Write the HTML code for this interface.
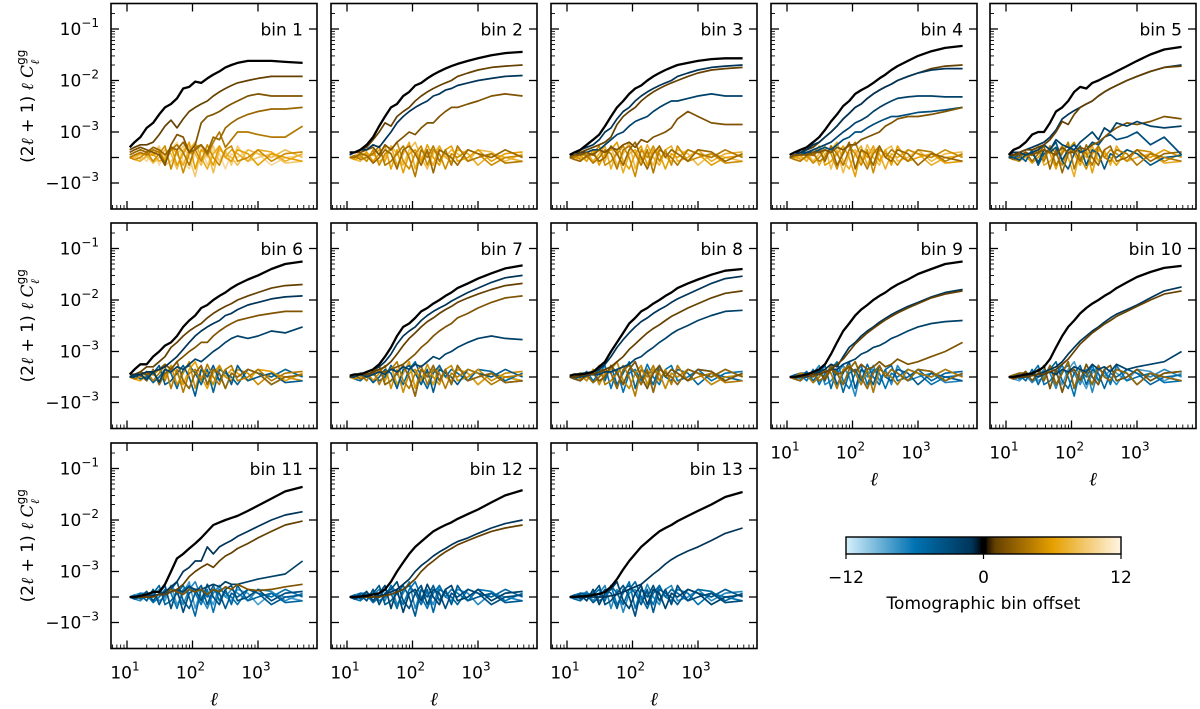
<!DOCTYPE html>
<html><head><meta charset="utf-8"><style>
html,body{margin:0;padding:0;background:#fff}
svg{display:block;font-family:"DejaVu Sans","Liberation Sans",sans-serif}
</style></head><body>
<svg id="fig" width="1200" height="709" viewBox="0 0 1200 709" xmlns="http://www.w3.org/2000/svg"></svg>
<script>
// ---- data ----
const ells = [11,13,16,20,25,31,38,47,58,72,89,110,136,168,208,257,318,393,486,700,1000,1600,2600,4800];
// values in units of 1e-3
const autoBin1 = [0.4,0.6,0.8,1.2,1.5,2.2,3,3.5,4.5,7,7.5,9.5,9,11,13,15,18,20,22,24,24,24,23,22];
const autoBin2 = [0.2,0.2,0.3,0.5,0.8,1.3,2,3,3.5,5,6,8,9,11,13,15,17,19,21,24,27,31,34,36];
const autoBin3 = [0.1,0.2,0.3,0.5,0.7,0.9,1.3,2,3,4,5.5,7,8,10,12,14,16,18,20,22,24,26,27,27];
const autoBin4 = [0.1,0.2,0.3,0.4,0.6,0.8,1.1,1.6,2.2,3.2,4,5.5,6.5,7.5,9,11,13,16,19,24,30,37,43,47];
const autoBin5 = [0.1,0.3,0.4,0.6,0.9,1,1,1.5,2.5,3,4,6,7.5,7,9,10,11.5,13,15,19,24,32,40,45];
const autoBin6 = [0.1,0.3,0.5,0.5,0.8,1,1.3,1.5,2,3,4,5,7,8,10,12,14,17,20,25,30,40,50,56];
const autoBin7 = [0.05,0.1,0.1,0.2,0.3,0.5,0.8,1.2,2,3,3.5,4.5,6,7,8.5,10,12,14,17,21,26,33,41,47];
const autoBin8 = [0.05,0.1,0.1,0.15,0.2,0.4,0.6,1,1.5,2.3,3.5,4.5,6,7,8.5,10,12,14,17,21,25,31,37,40];
const autoBin9 = [0,0,0.05,0.1,0.2,0.3,0.5,0.9,1.5,2.5,3.5,5,6.5,8,10,12,14,17,20,25,32,40,50,56];
const autoBin10 = [0,0,0.05,0.1,0.15,0.25,0.4,0.7,1.2,2,3,4,5.5,7,8.5,10,12,14,17,22,28,35,42,46];
const autoBin11 = [0,0,0.05,0.1,0.2,0.2,0.5,1,1.8,2.2,2.8,3.5,4.5,6,8,9,10,11,12,15,19,26,36,44];
const autoBin12 = [0,0,0.02,0.05,0.1,0.15,0.3,0.6,1,1.5,2.2,3,3.8,4.8,6,7,8,9,10.5,13,16,22,30,38];
const autoBin13 = [0,0,0.02,0.04,0.08,0.12,0.2,0.4,0.7,1.1,1.6,2.2,3,3.8,4.8,6,7,8,9.5,12,15,20,28,35];

const crossBin1 = [[1,[0.3,0.4,0.5,0.5,0.6,0.9,1.3,1.7,1.2,1.8,2.5,3,3.5,4,5,6,7,8,9,10,11,12,12,12]],
 [2,[0.2,0.3,0.4,0.3,0.2,0.1,-0.3,0.5,0.9,0.8,0.2,0.5,1.5,2,2.2,2.5,3,3.5,4,5,5.5,5,5,5]],
 [3,[0.1,0.2,0.3,0.2,0.4,0.3,0.1,0.4,0.3,0.6,0.2,0.3,0.5,0.2,0.8,0.7,1.2,1.5,1.8,2.2,2.5,2.8,2.8,3]],
 [4,[0,0.1,0.2,0.1,0.3,0.2,-0.2,0.3,0.5,0.2,-0.3,0.4,0.5,0.1,0.6,1,0.4,0.7,1,1,0.9,0.8,0.8,1.3]]];
const crossBin2 = [[1,[0.2,0.2,0.3,0.4,0.7,1,1.5,1.3,2,2.5,3,4,5,6,7,8,9,10,12,14,16,18,19,20]],
 [-1,[0.1,0.2,0.3,0.3,0.5,0.4,0.7,1,1.5,2,2.5,3,3.5,4,5,5.5,6.5,7,8,9,10,11,12,12.5]],
 [2,[0.1,0.2,0.2,0.3,0.4,0.1,0.5,0.3,0.6,0.8,1,0.9,1.2,1.5,1.5,2,2.5,3,3,3.5,4,5,5.5,5]]];
const crossBin3 = [[-1,[0.1,0.2,0.3,0.4,0.5,0.7,1,1.2,1.8,2.5,3,4,5,6,7,8,9,10,12,14,16,18,19,20]],
 [1,[0.1,0.2,0.2,0.3,0.4,0.5,0.6,0.8,1.4,2,2.5,3,4,5,6,7,8,9,10,12,14,16,17,18]],
 [-2,[0.1,0.1,0.2,0.2,0.3,0.3,0.5,0.7,0.9,1,1.3,1.6,1.8,2,2.5,3,3.5,4,4,4.5,5,5.5,5,5]],
 [2,[0,0.1,0.1,0.2,0.1,0.3,0.2,0.4,0.3,0.5,0.6,0.4,0.7,0.6,0.8,0.9,1,1.2,1.8,2.5,2,1.5,1.4,1.4]]];
const crossBin4 = [[1,[0.1,0.2,0.3,0.3,0.4,0.6,0.8,1,1.3,1.8,2.3,3,3.5,4.5,5.5,6.5,7.5,8.5,10,12,14,17,19,20]],
 [-1,[0.1,0.2,0.2,0.3,0.5,0.6,0.8,1,1.3,1.8,2.3,3,3.5,4.5,5.5,6.5,7.5,8.5,10,12,14,16,17,17]],
 [-2,[0,0.1,0.2,0.2,0.3,0.4,0.5,0.6,0.8,1,1.2,1.5,1.7,2,2.5,3,3.5,4,4.5,4.8,5,5,4.8,4.8]],
 [-3,[0,0.1,0.1,0.2,0.2,0.3,0.4,0.3,0.5,0.7,0.8,1,1,1.2,1.4,1.6,1.8,2,2,2.2,2.4,2.5,2.7,3]],
 [2,[0,0.1,0.1,0.1,0.2,0.2,0.3,0.2,0.4,0.3,0.5,0.5,0.7,0.8,0.9,1,1.3,1.5,1.8,2,2,2.2,2.5,3]]];
const crossBin5 = [[-1,[0.1,0.2,0.2,0.3,0.4,0.5,0.6,0.8,1.1,1.8,2.2,2.6,3,3.5,4,5,6,7,8,10,12,15,18,20]],
 [1,[0.1,0.1,0.2,0.3,0.3,0.4,0.5,0.7,1,1.6,1.4,2.2,3,3.5,4,5,6,7,8,10,12,15,18,19]],
 [2,[0,0.1,0.1,0.2,0.1,0.2,0.3,0.2,0.1,0.4,0.2,0.2,0.4,0.3,0.5,0.6,0.8,1,1.2,1.5,1.4,1.6,2,1.8]],
 [-2,[0,0.1,0.2,0.1,0.2,0.3,0.5,0.3,0.7,0.5,0.4,0.3,0.6,0.8,1,0.7,1.2,1,1.5,1.3,1.6,1.3,1.2,1.3]],
 [-3,[0,0,-0.1,0.1,0.2,-0.2,0.3,0.2,0.4,-0.1,0.3,0.5,0.2,0.3,0.6,0.5,0.8,0.9,0.7,0.8,1,0.5,0.8,0.1]]];
const crossBin6 = [[1,[0.1,0.1,0.2,0.4,0.4,0.6,0.8,1.2,1.5,2,2.5,3,3.5,4.5,5.5,6.5,7.5,8.5,10,12,14,17,19,20]],
 [-1,[0,0.1,0.1,0.2,0.2,0.3,0.4,0.6,0.8,1.1,1.5,2,2.5,3,3.5,4,5,5.5,6.5,8,9,10.5,11.5,12]],
 [2,[0,0.1,0.2,0.1,0.2,0.3,0.5,0.3,0.6,0.8,1,1.2,1.5,1.5,2,2.5,3,3.5,4,4.5,5,5.5,6,6]],
 [-2,[0,0,0.1,-0.1,0.2,-0.2,0.3,0.2,0.4,0.3,0.5,0.7,0.6,0.8,1,1.2,1.5,1.8,2,1.8,2,2.5,2.3,3]]];
const crossBin7 = [[-1,[0,0.1,0.1,0.2,0.3,0.4,0.6,0.9,1.4,2,2.5,3,4,5,6,7,8,9.5,11,14,17,22,27,30]],
 [1,[0,0.1,0.1,0.1,0.2,0.3,0.4,0.6,0.9,1.3,1.8,2.3,3,3.8,4.5,5.5,6.5,7.5,9,11,13,16,19,21]],
 [2,[0,0,0.1,0.1,0.1,0.2,0.2,0.3,0.4,0.5,0.7,0.9,1.2,1.5,2,2.5,3,3.5,4.5,5.5,7,9,11,12]],
 [-2,[0,0,0.1,0,0.1,0.2,0.1,0.3,0.2,0.4,0.3,0.5,0.4,0.6,0.8,0.7,0.9,1,1.2,1.5,1.8,2,1.8,1.7]]];
const crossBin8 = [[-1,[0,0,0.1,0.1,0.2,0.3,0.5,0.8,1.2,1.7,2.3,3,3.8,4.5,5.5,6.5,7.5,9,10.5,13,16,21,26,29]],
 [1,[0,0,0.05,0.1,0.1,0.2,0.3,0.4,0.6,0.8,1.1,1.4,1.8,2.3,2.8,3.3,4,4.8,5.5,7,8.5,11,13.5,15]],
 [-2,[0,0,0,0.05,0.1,0.1,0.2,0.2,0.3,0.4,0.5,0.7,0.8,1,1.2,1.5,1.8,2.2,2.6,3.2,4,5,6,6.3]]];
const crossBin9 = [[-1,[0,0,0,0.1,0.1,0.2,0.3,0.5,0.4,0.8,1.2,1.5,2,2.5,3,3.7,4.4,5.2,6,7.5,9,11.5,14,16]],
 [1,[0,0,0,0.05,0.1,0.1,0.2,0.3,0.5,0.7,1,1.4,1.8,2.3,2.8,3.4,4.1,4.8,5.6,7,8.5,11,13,15]],
 [-2,[0,0,0,0,0.1,0.1,0.2,0.3,0.3,0.5,0.6,0.7,0.9,1,1.2,1.3,1.5,1.8,2,2.5,3,3.5,3.8,4]],
 [2,[0,0,0,0.1,0,0.2,-0.1,0.3,0.1,0.2,0.4,0.2,0.5,0.3,0.4,0.6,0.4,0.5,0.7,0.5,0.6,0.8,1,1.5]]];
const crossBin10 = [[-1,[0,0,0,0.05,0.1,0.1,0.2,0.3,0.4,0.6,0.9,1.2,1.6,2,2.5,3,3.7,4.5,5.3,6.5,8,11,15,18]],
 [1,[0,0,0,0,0.05,0.1,0.1,0.2,0.3,0.5,0.7,1,1.4,1.8,2.3,2.8,3.4,4,4.8,6,7.5,10,13,15]],
 [-2,[0,0,0,0,0.1,0,0.1,0.2,0.1,0.3,0.2,0.4,0.3,0.2,0.5,0.3,0.4,0.2,0.5,0.3,0.4,0.5,0.6,1]]];
const crossBin11 = [[-1,[0,0,0,0,0.05,0.1,0.2,0.4,0.6,1,1.2,1.6,1.6,3,2.2,3,3.5,4,4.8,6,7.5,10,12.5,14.5]],
 [1,[0,0,0,0,0,0.1,0.1,0.2,0.3,0.5,0.8,1,1.2,1.4,1.2,1.6,2,2.3,2.8,3.5,4.5,6,8,9.5]],
 [-2,[0,0,0,0,0.05,0.1,0.1,0.2,0.3,0.2,0.4,0.3,0.3,0.4,0.5,0.4,0.6,0.5,0.5,0.6,0.7,0.8,0.9,1.6]],
 [2,[0,0,0,0,0.05,0.1,0.2,0.3,0.2,0.1,0.3,0.2,0.3,0.1,0.3,0.2,0.4,0.3,0.5,0.3,0.25,0.3,0.4,0.5]]];
const crossBin12 = [[-1,[0,0,0,0,0,0.05,0.1,0.2,0.3,0.5,0.7,1,1.3,1.6,2,2.4,2.8,3.3,3.8,4.5,5.5,7,8.5,10]],
 [1,[0,0,0,0,0,0,0.05,0.1,0.2,0.3,0.5,0.7,1,1.3,1.6,2,2.4,2.8,3.3,4,4.8,6,7,8]]];
const crossBin13 = [[-1,[0,0,0,0,0,0,0,0.05,0.1,0.2,0.3,0.4,0.5,0.7,0.9,1.1,1.4,1.7,2,2.5,3,4,5.5,7]]];

const noiseA = [0,0.08,0.15,0.15,0.08,0.3,-0.15,0.45,-0.3,0.15,0.6,-0.45,0.3,0.15,-0.3,0.45,0,-0.15,0.3,0.15,-0.3,0.15,0,-0.15];
const noiseB = [0,-0.08,0,0.22,-0.15,0.15,0.45,-0.45,0.3,-0.6,0.15,0.3,-0.15,0.5,0,-0.3,0.3,0.45,-0.15,0,0.3,-0.15,0.15,0.22];
const noiseC = [0,0,0.08,-0.15,0.3,-0.3,0.15,0.3,0.6,-0.15,-0.45,0.15,0.45,-0.3,0.3,0.15,-0.45,0.15,0,0.3,0.15,-0.3,0,0.08];
const noiseD = [0,0.08,-0.08,0,0.15,0.45,-0.3,-0.15,0.15,0.45,0,-0.75,0.3,0,0.45,-0.15,0.3,-0.3,0.45,-0.15,0,0.15,-0.22,-0.15];
const noiseE = [0,0,0.15,0.08,-0.22,0,0.3,0.15,-0.45,0.3,0.45,0.15,-0.3,0.3,-0.6,0.3,0.15,0,-0.3,0.3,0.15,0,0.3,0];
const noiseF = [0,-0.08,-0.15,0.08,0.15,-0.15,0,0.45,0.15,-0.3,0.3,0.6,0,-0.45,0.15,0.45,0,0.3,0.15,-0.15,0.3,0.22,-0.15,0.15];

const autoList = [autoBin1,autoBin2,autoBin3,autoBin4,autoBin5,autoBin6,autoBin7,autoBin8,autoBin9,autoBin10,autoBin11,autoBin12,autoBin13];
const crossList = [crossBin1,crossBin2,crossBin3,crossBin4,crossBin5,crossBin6,crossBin7,crossBin8,crossBin9,crossBin10,crossBin11,crossBin12,crossBin13];
const noiseList = [noiseA,noiseB,noiseC,noiseD,noiseE,noiseF];
const yTickLabels = ["10","10","10","","−10"];
const yTickExps = ["−1","−2","−3","","−3"];
const yTickVals = [100,10,1,0,-1];
const xTickVals = [10,100,1000];
const cbTicks = [-12,0,12];

// ---- layout ----
const NS="http://www.w3.org/2000/svg";
const svg=document.getElementById('fig');
const PW=206, PH=205.5, colX=[111,331,551,771,990], rowY=[3.5,223,443];
const DEC=51.5, LIN=25.5, ZERO=154, XDEC=65.5;
function el(tag,attrs,parent){const e=document.createElementNS(NS,tag);for(const k in attrs)e.setAttribute(k,attrs[k]);(parent||svg).appendChild(e);return e;}
function xs(px,l){return px+16+XDEC*(Math.log10(l)-1);}
function ys(py,u){const a=Math.abs(u);let d=a<=1?LIN*a:LIN+DEC*Math.log10(a);return py+ZERO-(u<0?-d:d);}
function lerp(a,b,t){return a.map((v,i)=>Math.round(v+(b[i]-v)*t));}
function cmap(off){
  if(off===0)return 'rgb(0,0,0)';
  const t=Math.abs(off)/12;
  const s=off<0?[[0,40,70],[0,114,178],[214,240,252]]:[[75,45,0],[230,159,0],[255,245,228]];
  const c=t<0.5?lerp(s[0],s[1],t/0.5):lerp(s[1],s[2],(t-0.5)/0.5);
  return 'rgb('+c.join(',')+')';
}
function pathFor(px,py,vals){return vals.map((v,i)=>(i?'L':'M')+xs(px,ells[i]).toFixed(1)+' '+ys(py,v).toFixed(1)).join(' ');}

for(let b=1;b<=13;b++){
  const idx=b-1;
  let col,row;
  if(b<=5){row=0;col=b-1;}else if(b<=10){row=1;col=b-6;}else{row=2;col=b-11;}
  const px=colX[col], py=rowY[row];
  const g=el('g',{});
  
  
  const cid='clip'+b;
  const cp=el('clipPath',{id:cid},g);el('rect',{x:px,y:py,width:PW,height:PH},cp);
  const lines=el('g',{'clip-path':'url(#'+cid+')'},g);
  const cross=crossList[idx];
  const sigOffs=cross.map(c=>c[0]);
  const offs=[];
  for(let o=-(b-1);o<=13-b;o++){if(o!==0&&!sigOffs.includes(o))offs.push(o);}
  offs.sort((a,c)=>Math.abs(c)-Math.abs(a));
  offs.forEach(o=>{
    const n=noiseList[((o+13)*5+b)%6];
    const p=el('path',{d:pathFor(px,py,n),fill:'none',stroke:cmap(o),'stroke-width':1.6,'stroke-linejoin':'round'},lines);
    
    
  });
  cross.slice().sort((a,c)=>Math.abs(c[0])-Math.abs(a[0])).forEach(c=>{
    const p=el('path',{d:pathFor(px,py,c[1]),fill:'none',stroke:cmap(c[0]),'stroke-width':1.7,'stroke-linejoin':'round'},lines);
    
    
  });
  const ap=el('path',{d:pathFor(px,py,autoList[idx]),fill:'none',stroke:'#000','stroke-width':2.3,'stroke-linejoin':'round'},lines);
  
  
  const fr=el('rect',{x:px,y:py,width:PW,height:PH,fill:'none',stroke:'#000','stroke-width':1.6},g);
  
  
  yTickVals.forEach(v=>{const y=ys(py,v);el('line',{x1:px,x2:px+8,y1:y,y2:y,stroke:'#000','stroke-width':1.3},g);el('line',{x1:px+PW-8,x2:px+PW,y1:y,y2:y,stroke:'#000','stroke-width':1.3},g);});
  [[1,3],[-1,2],[1,2],[1,1]].forEach(([s,dec])=>{for(let m=2;m<=9;m++){const u=s*m*Math.pow(10,dec-1);const y=ys(py,u);if(y>py+1&&y<py+PH-1)el('line',{x1:px,x2:px+4,y1:y,y2:y,stroke:'#000','stroke-width':0.9},g);}});
  xTickVals.forEach(l=>{const x=xs(px,l);el('line',{x1:x,x2:x,y1:py+PH,y2:py+PH-8,stroke:'#000','stroke-width':1.3},g);el('line',{x1:x,x2:x,y1:py,y2:py+8,stroke:'#000','stroke-width':1.3},g);});
  for(let d=0;d<4;d++)for(let m=2;m<=9;m++){const l=m*Math.pow(10,d);const x=xs(px,l);if(x>px+1&&x<px+PW-1)el('line',{x1:x,x2:x,y1:py+PH,y2:py+PH-4,stroke:'#000','stroke-width':0.9},g);}
  const t=el('text',{x:px+PW-14,y:py+32,'font-size':17,'text-anchor':'end'},g);t.textContent='bin '+b;
  
  
  if(col===0){
    yTickVals.forEach((v,i)=>{if(!yTickLabels[i])return;const tt=el('text',{x:px-12,y:ys(py,v)+6,'font-size':17,'text-anchor':'end'},g);
      const a=el('tspan',{},tt);a.textContent=yTickLabels[i];const e=el('tspan',{dy:-8,'font-size':12},tt);e.textContent=yTickExps[i];
      
      });
    const yl=el('text',{x:0,y:0,'font-size':17,'text-anchor':'middle',transform:'translate(33,'+(py+PH/2)+') rotate(-90)'},g);
    yl.innerHTML='(2<tspan font-style="italic" font-family="DejaVu Serif,serif">ℓ</tspan> + 1) <tspan font-style="italic" font-family="DejaVu Serif,serif">ℓ C</tspan><tspan font-size="12" dy="-8">gg</tspan><tspan font-size="12" dx="-15" dy="14" font-style="italic" font-family="DejaVu Serif,serif">ℓ</tspan>';
    
    
  }
  if(row===2||(row===1&&col>=3)){
    xTickVals.forEach(l=>{const tt=el('text',{x:xs(px,l)-2,y:py+PH+30,'font-size':17,'text-anchor':'middle'},g);
      const a=el('tspan',{},tt);a.textContent='10';const e=el('tspan',{dy:-8,'font-size':12},tt);e.textContent=String(Math.round(Math.log10(l)));
      
      });
    const xl=el('text',{x:px+PW/2,y:py+PH+57,'font-size':19,'text-anchor':'middle','font-style':'italic','font-family':'DejaVu Serif,serif'},g);xl.textContent='ℓ';
    
    
  }
}
const cb=el('g',{});


const defs=el('defs',{},cb);
const gr=el('linearGradient',{id:'cbg',x1:0,x2:1,y1:0,y2:0},defs);
for(let o=-12;o<=12;o++){el('stop',{offset:((o+12)/24).toFixed(3),'stop-color':cmap(o)},gr);}
const CX0=846,CX1=1121,CY=537,CH=17;
el('rect',{x:CX0,y:CY,width:CX1-CX0,height:CH,fill:'url(#cbg)'},cb);
el('rect',{x:(CX0+CX1)/2-3,y:CY,width:6,height:CH,fill:'#000'},cb);
el('rect',{x:CX0,y:CY,width:CX1-CX0,height:CH,fill:'none',stroke:'#000','stroke-width':1.4},cb);
cbTicks.forEach(v=>{const x=CX0+(v+12)/24*(CX1-CX0);el('line',{x1:x,x2:x,y1:CY+CH,y2:CY+CH+5,stroke:'#000','stroke-width':1.2},cb);
  const t=el('text',{x:x,y:CY+CH+29,'font-size':17,'text-anchor':'middle'},cb);t.textContent=v<0?'−'+Math.abs(v):String(v);
  
  });
const cbt=el('text',{x:(CX0+CX1)/2,y:609,'font-size':17,'text-anchor':'middle'},cb);cbt.textContent='Tomographic bin offset';


</script>
</body></html>
